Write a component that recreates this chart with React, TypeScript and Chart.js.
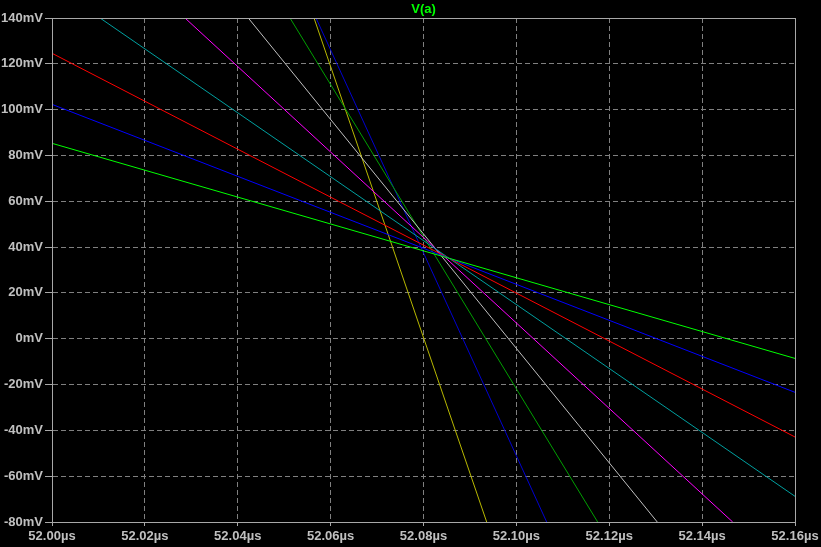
import React, { useEffect, useRef } from "react";
import { Chart, registerables } from "chart.js";

Chart.register(...registerables);

// time in µs, voltage in mV
const X_TICKS = [52.0, 52.02, 52.04, 52.06, 52.08, 52.1, 52.12, 52.14, 52.16];
const Y_TICKS = [-80, -60, -40, -20, 0, 20, 40, 60, 80, 100, 120, 140];
const TITLE = "V(a)";

const trace1 = [[52.0, 85.3], [52.16, -8.6]];
const trace2 = [[52.0, 102.3], [52.16, -23.4]];
const trace3 = [[52.0, 124.6], [52.16, -42.9]];
const trace4 = [[52.01034, 140], [52.16, -68.8]];
const trace5 = [[52.02864, 140], [52.14658, -80]];
const trace6 = [[52.04227, 140], [52.13034, -80]];
const trace7 = [[52.05125, 140], [52.11751, -80]];
const trace8 = [[52.05685, 140], [52.10653, -80]];
const trace9 = [[52.05642, 140], [52.09361, -80]];

const TRACES = [trace1, trace2, trace3, trace4, trace5, trace6, trace7, trace8, trace9];
const COLORS = ["#00ff00", "#0000ff", "#ff0000", "#00a0a0", "#ff00ff", "#c0c0c0", "#00a000", "#0000d0", "#b8b800"];

const FONT = { family: "'Liberation Sans', Arial, sans-serif", size: 13, weight: "bold" as const };
const LABEL = "#c0c0c0";
const FRAME = "#a8a8a8";
const GRID = "#808080";

export default function App() {
  const ref = useRef<HTMLCanvasElement | null>(null);
  useEffect(() => {
    document.body.style.margin = "0";
    const framePlugin = {
      id: "frame",
      afterDraw(chart: any) {
        const { ctx, chartArea: a } = chart;
        ctx.save();
        ctx.strokeStyle = FRAME;
        ctx.lineWidth = 1;
        ctx.setLineDash([]);
        ctx.strokeRect(Math.round(a.left) + 0.5, Math.round(a.top) + 0.5, Math.round(a.right - a.left), Math.round(a.bottom - a.top));
        ctx.fillStyle = "#00ff00";
        ctx.font = `bold 13px ${FONT.family}`;
        ctx.textAlign = "center";
        ctx.textBaseline = "middle";
        ctx.fillText(TITLE, (a.left + a.right) / 2, 9);
        ctx.restore();
      },
    };
    const chart = new Chart(ref.current!, {
      type: "line",
      data: {
        datasets: TRACES.map((t, i) => ({
          label: "V(a) " + (i + 1),
          data: t.map(([x, y]) => ({ x, y })),
          borderColor: COLORS[i],
          borderWidth: 1,
          pointRadius: 0,
          tension: 0,
          fill: false,
        })),
      },
      options: {
        animation: false,
        responsive: false,
        devicePixelRatio: 1,
        layout: { padding: { top: 18, right: 26, left: 0, bottom: 0 } },
        plugins: { legend: { display: false }, tooltip: { enabled: false }, title: { display: false } },
        scales: {
          x: {
            type: "linear",
            min: 52.0,
            max: 52.16,
            afterBuildTicks: (s: any) => { s.ticks = X_TICKS.map((v) => ({ value: v })); },
            afterFit: (s: any) => { s.height = 25; s.paddingLeft = 0; s.paddingRight = 0; },
            grid: { color: GRID, lineWidth: 1, drawTicks: true, tickLength: 4, tickColor: FRAME, tickBorderDash: [] },
            border: { display: true, color: FRAME, dash: [5, 3] },
            ticks: {
              color: LABEL,
              font: FONT,
              padding: 3,
              maxRotation: 0,
              autoSkip: false,
              callback: (v: any) => Number(v).toFixed(2) + "µs",
            },
          },
          y: {
            type: "linear",
            min: -80,
            max: 140,
            afterBuildTicks: (s: any) => { s.ticks = Y_TICKS.map((v) => ({ value: v })); },
            afterFit: (s: any) => { s.width = 52; s.paddingTop = 0; s.paddingBottom = 0; },
            grid: { color: GRID, lineWidth: 1, drawTicks: true, tickLength: 7, tickColor: FRAME, tickBorderDash: [] },
            border: { display: true, color: FRAME, dash: [5, 3] },
            ticks: {
              color: LABEL,
              font: FONT,
              padding: 2,
              autoSkip: false,
              callback: (v: any) => `${v}mV`,
            },
          },
        },
      },
      plugins: [framePlugin],
    });
    return () => chart.destroy();
  }, []);
  return (
    <div style={{ position: "fixed", left: 0, top: 0, width: 821, height: 547, background: "#000" }}>
      <canvas ref={ref} width={821} height={547} style={{ display: "block" }} />
    </div>
  );
}
